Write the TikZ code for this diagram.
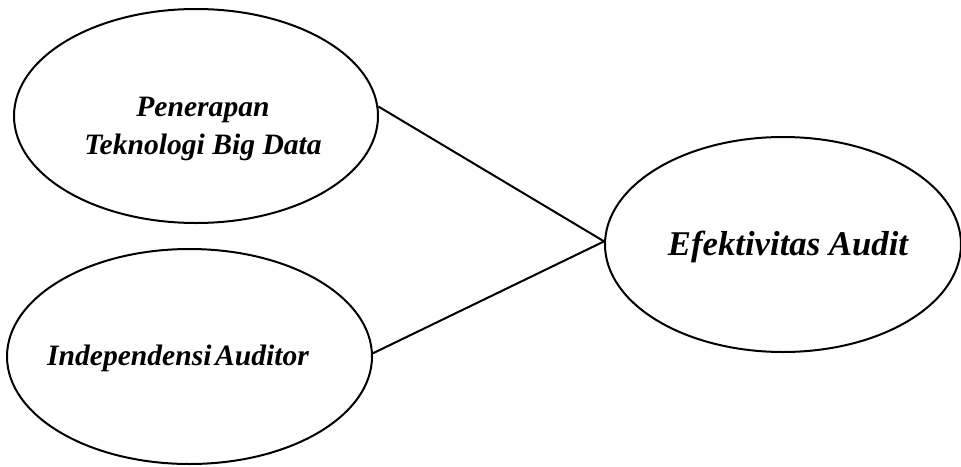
\documentclass[tikz,border=0pt]{standalone}
\usepackage{fontspec}
\setmainfont{Liberation Serif}
\usetikzlibrary{shapes.geometric}

\begin{document}
\begin{tikzpicture}[x=1pt,y=-1pt]
\tikzset{var/.style={draw, ellipse, line width=2pt, inner sep=0pt},
         lbl/.style={font=\bfseries\itshape\fontsize{29.6}{38}\selectfont, align=center, inner sep=0pt},
         link/.style={line width=2pt}}
\useasboundingbox (0,0) rectangle (961,466);
% variabel
\node[var, minimum width=364pt, minimum height=214pt] (pen) at (196,116) {};
\node[var, minimum width=365pt, minimum height=215pt] (ind) at (189.5,356.5) {};
\node[var, minimum width=356pt, minimum height=215pt] (eff) at (783,244.5) {};
% teks
\node[lbl] (penText) at (203,129) {Penerapan\\Teknologi Big Data};
\node[lbl, anchor=base] (indText) at (178,365) {Independensi\hspace{0.12em}Auditor};
\node[lbl, anchor=base, font=\bfseries\itshape\fontsize{34.7}{40}\selectfont] (effText) at (788,255) {Efektivitas Audit};
% hubungan
\draw[link] (pen.3) -- (eff.179);
\draw[link] (ind.1) -- (eff.179);
\end{tikzpicture}
\end{document}
